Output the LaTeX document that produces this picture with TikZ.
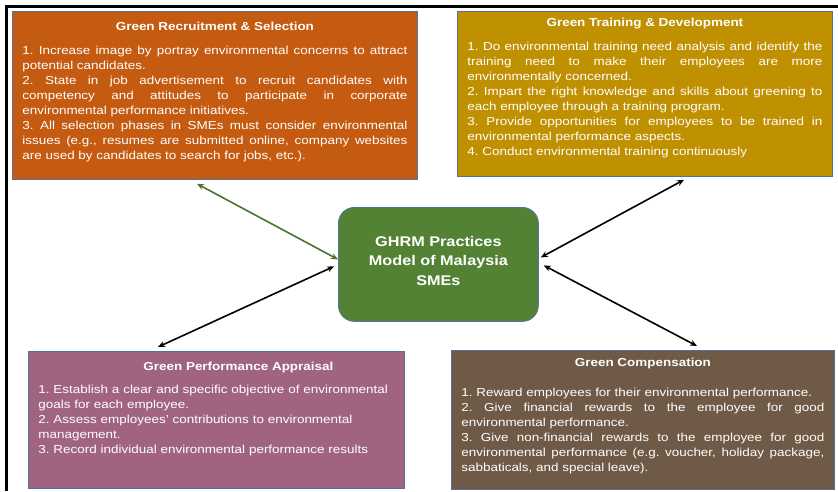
\documentclass[tikz,border=0pt]{standalone}
\usepackage{fontspec}
\setmainfont{Liberation Sans}[FakeStretch=1.16]
\usetikzlibrary{arrows.meta,positioning}
\definecolor{rsorange}{RGB}{197,90,17}
\definecolor{tdgold}{RGB}{191,144,0}
\definecolor{papurple}{RGB}{160,100,130}
\definecolor{gcbrown}{RGB}{110,90,70}
\definecolor{ghgreen}{RGB}{84,130,53}
\definecolor{arrowgreen}{RGB}{74,115,46}
\definecolor{edgeblue}{RGB}{84,114,160}
\tolerance=10000
\hyphenpenalty=10000
\frenchspacing

\begin{document}
\begin{tikzpicture}[x=1pt, y=-1pt,
		block/.style={rectangle, draw=edgeblue, line width=0.8pt, anchor=north west, inner sep=0pt},
		title/.style={anchor=base, text=white, inner sep=0pt, font=\fontsize{11.6pt}{15pt}\selectfont\bfseries},
		note/.style={anchor=north, text=white, inner sep=0pt, align=justify, font=\fontsize{11.6pt}{15pt}\selectfont},
		line/.style={draw, {Stealth[length=7pt,width=6pt]}-{Stealth[length=7pt,width=6pt]}, line width=1.6pt}]
		\useasboundingbox (0,0) rectangle (838,491);
		% Frame
		\draw[line width=3.5pt] (6.5,491) -- (6.5,6.5) -- (838,6.5);

		% Nodes
		\node [block, fill=rsorange, minimum width=405pt, minimum height=168pt] (rs) at (12,11) {};
		\node [block, fill=tdgold, minimum width=375pt, minimum height=165pt] (td) at (457,11) {};
		\node [block, fill=papurple, minimum width=376pt, minimum height=137pt] (pa) at (28,351) {};
		\node [block, fill=gcbrown, minimum width=383pt, minimum height=139pt] (gc) at (451,350) {};
		\node [block, fill=ghgreen, rounded corners=16pt, minimum width=200pt, minimum height=114pt] (gh) at (338,207) {};

		\node [title] (rstitle) at ([yshift=-19pt]rs.north) {Green Recruitment \& Selection};
		\node [note, text width=385pt] (rstext) at ([yshift=-34.8pt]rs.north) {1. Increase image by portray environmental concerns to attract\linebreak potential candidates.\\
			2. State in job advertisement to recruit candidates with\linebreak competency and attitudes to participate in corporate\linebreak environmental performance initiatives.\\
			3. All selection phases in SMEs must consider environmental\linebreak issues (e.g., resumes are submitted online, company websites\linebreak are used by candidates to search for jobs, etc.).};

		\node [title] (tdtitle) at ([yshift=-15pt]td.north) {Green Training \& Development};
		\node [note, text width=355pt] (tdtext) at ([yshift=-30.5pt]td.north) {1. Do environmental training need analysis and identify the\linebreak training need to make their employees are more\linebreak environmentally concerned.\\
			2. Impart the right knowledge and skills about greening to\linebreak each employee through a training program.\\
			3. Provide opportunities for employees to be trained in\linebreak environmental performance aspects.\\
			4. Conduct environmental training continuously};

		\node [title] (patitle) at ([xshift=22pt,yshift=-19.6pt]pa.north) {Green Performance Appraisal};
		\node [note, text width=356pt, align=left] (patext) at ([yshift=-34pt]pa.north) {1. Establish a clear and specific objective of environmental\\
			goals for each employee.\\
			2. Assess employees' contributions to environmental\\
			management.\\
			3. Record individual environmental performance results};

		\node [title] (gctitle) at ([yshift=-16.3pt]gc.north) {Green Compensation};
		\node [note, text width=363pt] (gctext) at ([yshift=-38pt]gc.north) {1. Reward employees for their environmental performance.\\
			2. Give financial rewards to the employee for good\linebreak environmental performance.\\
			3. Give non-financial rewards to the employee for good\linebreak environmental performance (e.g. voucher, holiday package,\linebreak sabbaticals, and special leave).};

		\node [anchor=north, align=center, text=white, inner sep=0pt, font=\fontsize{14pt}{19.5pt}\selectfont\bfseries] (ghtext) at ([yshift=-29pt]gh.north) {GHRM Practices\\Model of Malaysia\\SMEs};

		% Paths
		\path [line, draw=arrowgreen] ([xshift=185pt,yshift=-4pt]rs.south west) -- ([yshift=5pt]gh.west);
		\path [line] ([xshift=130pt,yshift=4pt]pa.north west) -- ([xshift=-4pt,yshift=-2pt]gh.west);
		\path [line] ([xshift=227pt,yshift=-3pt]td.south west) -- ([xshift=2pt,yshift=7pt]gh.east);
		\path [line] ([xshift=5pt,yshift=-1pt]gh.east) -- ([xshift=246pt,yshift=4pt]gc.north west);
	\end{tikzpicture}
\end{document}
